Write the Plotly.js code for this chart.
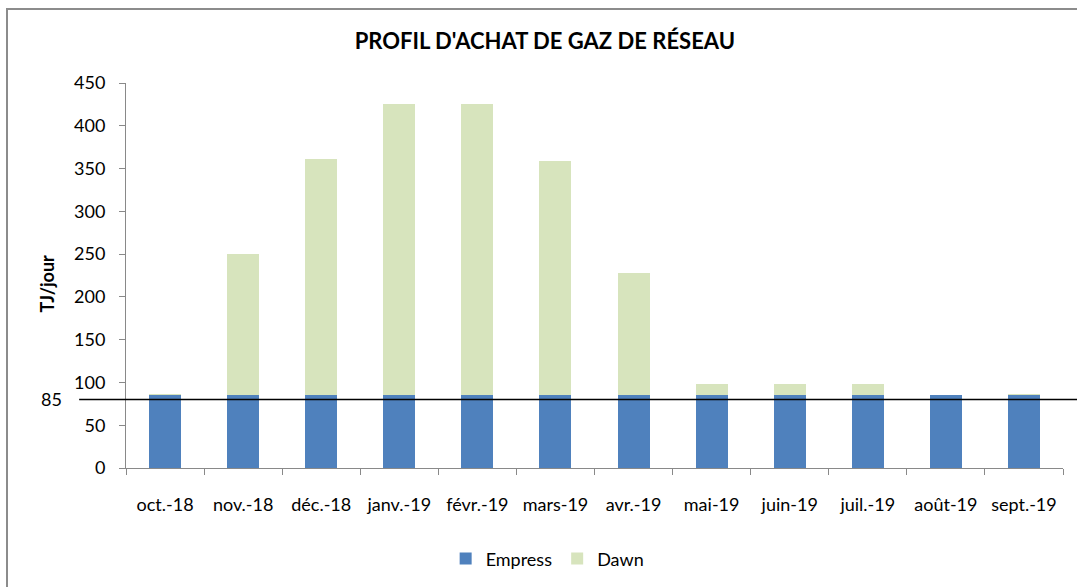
<!DOCTYPE html>
<html>
<head>
<meta charset="utf-8">
<script src="https://cdn.plot.ly/plotly-3.0.1.min.js"></script>
<style>html,body{margin:0;padding:0;background:#fff;}#chart{width:1077px;height:587px;}</style>
</head>
<body>
<div id="chart"></div>
<script>
const months = ["oct.-18","nov.-18","déc.-18","janv.-19","févr.-19","mars-19","avr.-19","mai-19","juin-19","juil.-19","août-19","sept.-19"];
const empress = [85,85,85,85,85,85,85,85,85,85,85,85];
const dawn = [1.5,165,276,340,340,274,143,13,13,13,0,1.5];
const refLineValue = 80;
const refLineLabel = "85";

const FONT = "Lato, 'Open Sans', sans-serif";

const traces = [
  {type:'bar', name:'Empress', x:months, y:empress, marker:{color:'#4F81BD'}},
  {type:'bar', name:'Dawn', x:months, y:dawn, marker:{color:'#D7E4BD'}}
];

const layout = {
  width:1077, height:587,
  barmode:'stack', bargap:0.59,
  margin:{l:126, r:14, t:83, b:119, autoexpand:false},
  paper_bgcolor:'#fff', plot_bgcolor:'#fff',
  font:{family:FONT, size:18, color:'#000'},
  title:{text:"<b>PROFIL D'ACHAT DE GAZ DE RÉSEAU</b>", font:{family:FONT, size:22, color:'#000'},
         x:0.447, xref:'paper', xanchor:'center', y:43, yref:'container', yanchor:'middle'},
  showlegend:true,
  legend:{orientation:'h', x:0.45, xanchor:'center', y:-0.236, yanchor:'middle', font:{size:18}, traceorder:'normal'},
  xaxis:{type:'category', automargin:false, showline:true, linecolor:'#898989', linewidth:1, ticks:'outside', tickson:'boundaries',
         ticklen:6, tickcolor:'#898989', showgrid:false, ticklabelstandoff:20, tickfont:{size:18}},
  yaxis:{range:[0,450], dtick:50, automargin:false, showline:true, linecolor:'#898989', linewidth:1, ticks:'outside', ticklen:6,
         tickcolor:'#898989', showgrid:false, zeroline:false, ticklabelstandoff:10, tickfont:{size:18}},
  shapes:[
    {type:'rect', xref:'paper', yref:'paper', x0:-0.127, x1:1.1, y0:-0.4, y1:1.192, line:{color:'#8c8c8c', width:2}, fillcolor:'rgba(0,0,0,0)', layer:'below'},
    {type:'line', xref:'paper', yref:'y', x0:-0.05, x1:1.015, y0:refLineValue, y1:refLineValue, line:{color:'#000', width:1.5}}
  ],
  annotations:[
    {text:refLineLabel, xref:'paper', yref:'y', x:-0.079, y:refLineValue+1, showarrow:false, xanchor:'center', yanchor:'middle', font:{size:18}},
    {text:'<b>TJ/jour</b>', xref:'paper', yref:'paper', x:-0.084, y:0.48, showarrow:false, textangle:-90, xanchor:'center', yanchor:'middle', font:{size:18}}
  ]
};

Plotly.newPlot('chart', traces, layout, {displayModeBar:false, staticPlot:true});
</script>
</body>
</html>
